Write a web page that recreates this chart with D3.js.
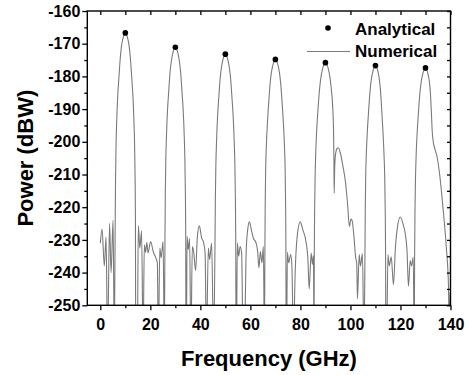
<!DOCTYPE html>
<html>
<head>
<meta charset="utf-8">
<script src="https://cdn.jsdelivr.net/npm/d3@7"></script>
<style>
  body { margin: 0; background: #fff; }
  svg text { font-family: "Liberation Sans", Arial, sans-serif; font-weight: bold; fill: #000; }
</style>
</head>
<body>
<div id="chart"></div>
<script>
// analytical peaks (dots)
var analyticalFreq = [10, 30, 50, 70, 90, 110, 130];
var analyticalPower = [-166.7, -171.1, -173.2, -174.8, -175.8, -176.7, -177.4];

// numerical curve [GHz, dBW] (values below -250 are clipped)
var numerical = [
  [0,-231],[0.7,-226.7],[1.6,-238],[2.3,-229.1],[2.9,-262],[3.7,-224.9],[4.3,-240],[5.1,-224],[5.6,-262],
  [5.95,-224.7],[6.1,-210.7],[6.3,-200.7],[6.6,-192.7],[6.95,-186.2],[7.45,-180.2],[8.0,-174.2],[8.45,-170.9],[8.9,-168.9],[9.45,-167.3],
  [10,-166.7],[10.55,-167.3],[11.1,-168.9],[11.55,-170.9],[12.0,-174.2],[12.55,-180.2],[13.05,-186.2],[13.4,-192.7],[13.7,-200.7],[13.9,-210.7],[14.05,-224.7],[14.15,-262],
  [14.8,-262],[15.2,-225.6],[15.8,-232.5],[16.5,-227.2],[17.1,-262],[17.6,-231.5],[18.1,-233.8],[18.6,-230.8],[19.1,-234],[20.1,-230.5],[21.2,-233.7],[22.2,-235.5],[22.8,-237],[23.2,-262],[23.8,-232.5],[24.3,-235.5],[25.1,-230.5],[25.6,-262],
  [25.85,-229.1],[26.0,-215.1],[26.2,-205.1],[26.5,-197.1],[26.85,-190.6],[27.35,-184.6],[27.9,-178.6],[28.4,-175.3],[28.86,-173.3],[29.43,-171.7],
  [30,-171.1],[30.57,-171.7],[31.14,-173.3],[31.6,-175.3],[32.1,-178.6],[32.65,-184.6],[33.15,-190.6],[33.5,-197.1],[33.8,-205.1],[34.0,-215.1],[34.15,-229.1],[34.25,-262],
  [34.4,-262],[34.7,-228.9],[35.1,-233],[35.7,-229.5],[36.2,-262],[36.8,-232],[37.3,-233.5],[38.1,-239.4],[38.8,-229],[39.6,-225.7],[40.5,-229.4],[41.2,-230.5],[41.9,-234],[42.4,-262],[43.2,-232.5],[43.7,-236],[44.5,-231],[45.3,-262],
  [45.85,-231.2],[46.0,-217.2],[46.2,-207.2],[46.5,-199.2],[46.85,-192.7],[47.35,-186.7],[47.9,-180.7],[48.4,-177.4],[48.86,-175.4],[49.43,-173.8],
  [50,-173.2],[50.57,-173.8],[51.14,-175.4],[51.6,-177.4],[52.1,-180.7],[52.65,-186.7],[53.15,-192.7],[53.5,-199.2],[53.8,-207.2],[54.0,-217.2],[54.15,-231.2],[54.25,-262],
  [54.4,-262],[54.8,-231],[55.3,-235],[55.9,-232],[56.5,-234],[57.1,-262],[57.6,-262],[58.3,-234],[58.9,-227],[59.6,-224.5],[60.4,-227],[61.2,-229.5],[62.2,-230.8],[62.9,-233.5],[63.4,-238.5],[64.0,-233.6],[64.6,-237],[65.2,-232],[65.6,-262],
  [65.8,-232.8],[65.93,-218.8],[66.1,-208.8],[66.4,-200.8],[66.8,-194.3],[67.3,-188.3],[67.87,-182.3],[68.35,-179.0],[68.84,-177.0],[69.42,-175.4],
  [70,-174.8],[70.58,-175.4],[71.16,-177.0],[71.65,-179.0],[72.13,-182.3],[72.7,-188.3],[73.2,-194.3],[73.6,-200.8],[73.9,-208.8],[74.07,-218.8],[74.2,-232.8],[74.3,-262],
  [74.45,-262],[74.8,-233.8],[75.3,-237],[76.1,-234.5],[76.6,-238],[77.2,-262],[77.9,-240],[78.7,-229],[79.9,-224.5],[81.0,-227],[82.1,-230],[83.0,-236],[83.5,-245],[84.3,-234],[84.8,-237.5],[85.2,-234.8],[85.45,-262],
  [85.55,-233.8],[85.7,-219.8],[85.9,-209.8],[86.2,-201.8],[86.6,-195.3],[87.1,-189.3],[87.73,-183.3],[88.25,-180.0],[88.76,-178.0],[89.38,-176.4],
  [90,-175.8],[90.62,-176.4],[91.24,-178.0],[91.75,-180.0],[92.27,-183.3],[92.9,-189.3],[93.25,-197],[93.4,-206],[93.5,-215.7],[93.7,-208],[94.1,-203.5],[94.7,-202],[95.2,-201.9],[96,-203.5],[97,-207.5],[97.9,-211.6],[98.8,-218.5],[99.6,-225.9],[100.2,-223.6],[100.7,-224.2],[101.4,-229],[102.1,-235.5],[102.5,-237],[102.8,-248],[103.5,-234.5],[104,-238],[104.8,-234.2],[105.4,-262],
  [105.8,-234.7],[105.93,-220.7],[106.1,-210.7],[106.4,-202.7],[106.8,-196.2],[107.3,-190.2],[107.87,-184.2],[108.35,-180.9],[108.84,-178.9],[109.42,-177.3],
  [110,-176.7],[110.58,-177.3],[111.1,-178.9],[111.55,-180.9],[112.0,-184.2],[112.5,-190.2],[112.95,-196.2],[113.35,-202.7],[113.7,-210.7],[113.9,-220.7],[114.05,-234.7],[114.15,-262],
  [114.45,-262],[115,-234.5],[115.5,-238],[116.3,-235.2],[117.2,-243.7],[118.0,-232],[118.9,-225.5],[119.9,-223],[121.0,-225],[122.0,-228.5],[122.6,-233],[123.2,-244.2],[123.9,-236.3],[124.4,-238],[125.1,-235.3],[125.5,-262],
  [125.65,-235.4],[125.8,-221.4],[126.0,-211.4],[126.3,-203.4],[126.7,-196.9],[127.2,-190.9],[127.8,-184.9],[128.3,-181.6],[128.8,-179.6],[129.4,-178.0],
  [130,-177.4],[130.55,-178.0],[131.1,-179.6],[131.55,-181.6],[131.95,-184.9],[132.35,-190.9],[132.7,-196.9],[133.2,-200.5],[133.8,-202.3],[134.6,-204.5],[135.5,-209],[136.3,-214.5],[137.2,-221.8],[138.3,-232],[139.2,-244.2],[139.5,-262],[139.8,-246],[140.1,-262]
];

var xTicks = [0, 20, 40, 60, 80, 100, 120, 140];
var xMinor = [10, 30, 50, 70, 90, 110, 130];
var yTicks = [-250, -240, -230, -220, -210, -200, -190, -180, -170, -160];
var yMinor = [-245, -235, -225, -215, -205, -195, -185, -175, -165];
var legendLabels = ["Analytical", "Numerical"];

var svg = d3.select("div#chart")
  .append("svg")
  .attr("width", 471)
  .attr("height", 375);

var pLeft = 87.3, pRight = 450.5, pTop = 11, pBottom = 305.3;

var x = d3.scaleLinear().domain([-5.2, 140]).range([pLeft, pRight]);
var y = d3.scaleLinear().domain([-250, -160]).range([pBottom, pTop]);

// clip for the curve
svg.append("clipPath").attr("id", "plot")
  .append("rect")
  .attr("x", pLeft).attr("y", pTop)
  .attr("width", pRight - pLeft).attr("height", pBottom - pTop);

var line = d3.line()
  .x(function(d) { return x(d[0]); })
  .y(function(d) { return y(d[1]); })
  .curve(d3.curveMonotoneX);

svg.append("path")
  .datum(numerical)
  .attr("clip-path", "url(#plot)")
  .attr("d", line)
  .attr("fill", "none")
  .attr("stroke", "#7a7a7a")
  .attr("stroke-width", 1.1);

svg.selectAll("circle.dot").data(analyticalFreq)
  .enter().append("circle")
  .attr("class", "dot")
  .attr("cx", function(d) { return x(d); })
  .attr("cy", function(d, i) { return y(analyticalPower[i]); })
  .attr("r", 2.8)
  .attr("fill", "#000");

// axes
function noLabel() { return ""; }
function plain(d) { return String(d); }

svg.append("g").attr("transform", "translate(0," + pBottom + ")")
  .call(d3.axisBottom(x).tickValues(xTicks).tickSize(5).tickPadding(8).tickFormat(plain));
svg.append("g").attr("transform", "translate(0," + pBottom + ")")
  .call(d3.axisBottom(x).tickValues(xMinor).tickSize(3).tickFormat(noLabel));
svg.append("g").attr("transform", "translate(" + pLeft + ",0)")
  .call(d3.axisLeft(y).tickValues(yTicks).tickSize(5).tickPadding(2).tickFormat(plain));
svg.append("g").attr("transform", "translate(" + pLeft + ",0)")
  .call(d3.axisLeft(y).tickValues(yMinor).tickSize(3).tickFormat(noLabel));
svg.append("g").attr("transform", "translate(0," + pTop + ")")
  .call(d3.axisBottom(x).tickValues(xTicks.concat(xMinor)).tickSize(4).tickFormat(noLabel));
svg.append("g").attr("transform", "translate(" + pRight + ",0)")
  .call(d3.axisLeft(y).tickValues(yTicks.concat(yMinor)).tickSize(3.5).tickFormat(noLabel));

svg.selectAll(".domain").remove();
svg.selectAll(".tick line").attr("stroke", "#000").attr("stroke-width", 1.3);
svg.selectAll(".tick text")
  .attr("font-size", "16px")
  .attr("fill", "#000")
  .style("font-family", "'Liberation Sans', Arial, sans-serif")
  .style("font-weight", "bold");

svg.append("rect")
  .attr("x", pLeft).attr("y", pTop)
  .attr("width", pRight - pLeft).attr("height", pBottom - pTop)
  .attr("fill", "none").attr("stroke", "#000").attr("stroke-width", 1.4);

// titles
svg.append("text")
  .attr("x", (pLeft + pRight) / 2).attr("y", 366)
  .attr("text-anchor", "middle")
  .attr("font-size", "22px")
  .text("Frequency (GHz)");

svg.append("text")
  .attr("transform", "translate(33," + ((pTop + pBottom) / 2) + ") rotate(-90)")
  .attr("text-anchor", "middle")
  .attr("font-size", "22px")
  .text("Power (dBW)");

// legend
var lg = svg.append("g");
lg.append("circle").attr("cx", 328).attr("cy", 28).attr("r", 2.8).attr("fill", "#000");
lg.append("line").attr("x1", 307).attr("x2", 350).attr("y1", 51.5).attr("y2", 51.5)
  .attr("stroke", "#7a7a7a").attr("stroke-width", 1.1);
lg.selectAll("text").data(legendLabels)
  .enter().append("text")
  .attr("x", 355)
  .attr("y", function(d, i) { return 34.5 + i * 22.5; })
  .attr("font-size", "17px")
  .text(function(d) { return d; });
</script>
</body>
</html>
